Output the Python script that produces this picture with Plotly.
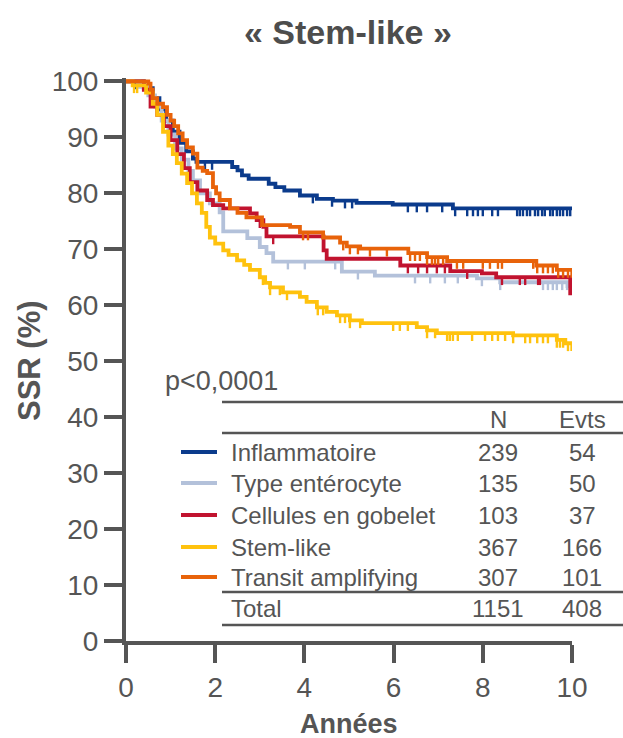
import plotly.graph_objects as go

# ---------------- data ----------------
groups = ["Inflammatoire", "Type entérocyte", "Cellules en gobelet", "Stem-like", "Transit amplifying"]
n_patients = [239, 135, 103, 367, 307]
n_events = [54, 50, 37, 166, 101]
total_n = 1151
total_events = 408
p_value_text = "p<0,0001"

infl_t = [0, 0.4, 0.6, 0.75, 0.9, 1.05, 1.2, 1.35, 1.5, 1.58, 2.38, 2.5, 2.6, 2.75, 3.2, 3.35, 3.55, 3.9, 4.28, 4.64, 5.17, 5.98, 7.33, 10.0]
infl_s = [100, 98.8, 97, 95, 93, 91, 89, 87.5, 86.2, 85.6, 84.7, 84.1, 83.2, 82.6, 81.7, 81.1, 80.5, 79.6, 79.0, 78.7, 78.3, 78.0, 77.3, 77.3]
infl_cens = [0.2, 1.77, 1.93, 4.19, 4.62, 4.91, 5.07, 6.32, 6.52, 6.75, 7.09, 7.38, 7.65, 7.78, 7.89, 8.0, 8.21,
             8.34, 8.77, 8.83, 8.9, 8.99, 9.06, 9.17, 9.24, 9.33, 9.39, 9.51, 9.57, 9.66, 9.73, 9.8, 9.89, 9.96]

ent_t = [0, 0.3, 0.5, 0.65, 0.8, 0.95, 1.1, 1.25, 1.4, 1.5, 1.66, 1.88, 2.1, 2.18, 2.72, 3.0, 3.15, 3.3, 4.84, 5.58, 7.87, 8.39, 9.9, 10.0]
ent_s = [100, 99, 97.5, 95.5, 93, 90.5, 88, 86, 84, 82.3, 80, 78.2, 76.6, 73.2, 72, 70.4, 69.3, 67.8, 66.0, 65.3, 64.8, 64.1, 63.4, 63.4]
ent_cens = [3.63, 4.01, 4.69, 5.2, 6.48, 6.82, 7.15, 7.44, 7.98, 8.39, 9.35, 9.46, 9.57, 9.66, 9.78, 9.89, 9.96]

gob_t = [0, 0.4, 0.55, 0.7, 0.85, 1.0, 1.15, 1.3, 1.43, 1.6, 1.82, 1.95, 2.18, 2.78, 2.93, 3.08, 3.15, 4.43, 4.5, 6.15, 7.27, 7.98, 8.3, 9.96, 10.0]
gob_s = [100, 98.5, 95.5, 94, 92, 89.5, 87, 84.5, 82, 80.5, 78.8, 77.9, 77.3, 76.4, 75.2, 74, 72.3, 69.8, 68.3, 67.1, 66.1, 65.7, 65.0, 62.1, 62.1]
gob_cens = [3.0, 3.3, 6.32, 6.55, 6.75, 6.97, 7.15, 7.65, 8.43, 8.83, 8.95, 9.24, 9.28]

stem_t = [0, 0.15, 0.45, 0.6, 0.7, 0.83, 0.95, 1.05, 1.14, 1.25, 1.37, 1.48, 1.59, 1.7, 1.8, 1.88, 2.0, 2.18, 2.3,
          2.49, 2.65, 2.78, 3.0, 3.12, 3.23, 3.52, 3.9, 4.05, 4.28, 4.5, 4.73, 5.02, 5.29, 6.52, 6.75, 6.97, 8.68, 9.66, 9.85, 10.0]
stem_s = [100, 99.3, 98, 96, 94, 91, 88.5, 87, 85.4, 83.5, 81.8, 80, 78.2, 76.5, 74, 72.1, 71, 69.8, 69,
          68, 67.2, 66.3, 65, 64, 63.2, 62.3, 61.5, 60.6, 59.6, 58.8, 58.2, 57.3, 56.8, 56.1, 55.5, 55.0, 54.6, 53.8, 53.2, 53.2]
stem_cens = [0.18, 0.25, 3.07, 3.23, 3.45, 3.61, 4.3, 4.42, 4.8, 4.91, 5.02, 5.25, 5.99, 6.14, 6.32, 6.75, 6.93,
             7.2, 7.26, 7.33, 7.44, 7.76, 8.05, 8.21, 8.34, 8.5, 8.68, 8.95, 9.06, 9.22, 9.35, 9.46, 9.66, 9.73, 9.8, 9.91, 9.99]

ta_t = [0, 0.5, 0.55, 0.6, 0.7, 0.83, 0.92, 1.0, 1.08, 1.17, 1.27, 1.37, 1.5, 1.6, 1.72, 1.82, 1.95, 2.02, 2.1, 2.33,
        2.5, 2.7, 3.05, 3.68, 3.9, 4.42, 4.8, 4.95, 5.25, 6.33, 6.75, 7.2, 9.2, 9.66, 10.0]
ta_s = [100, 99.6, 98.5, 97, 96, 95.4, 94, 93, 92, 90.7, 89.5, 88.2, 87.1, 84.6, 84, 83.6, 81.1, 80, 78.8, 77.3,
        76.5, 75.7, 74.3, 74.0, 73.0, 72.1, 71.2, 70.5, 70.1, 69.3, 68.6, 67.9, 67.1, 66.3, 66.3]
ta_cens = [3.97, 4.08, 4.87, 5.02, 5.2, 5.47, 5.85, 6.37, 6.48, 6.59, 6.75, 6.86, 6.93, 7.0, 7.11, 7.42, 7.56,
           8.0, 8.16, 8.34, 8.43, 9.13, 9.22, 9.35, 9.46, 9.57, 9.69, 9.8, 9.91, 9.99]

x_ticks = [0, 2, 4, 6, 8, 10]
y_ticks = [0, 10, 20, 30, 40, 50, 60, 70, 80, 90, 100]

# ---------------- styling ----------------
colors = ["#0b3b8c", "#b3c1da", "#c1132f", "#ffc20e", "#e8630a"]
TXT = "#555555"
FONT = "Liberation Sans, Arial, sans-serif"
series = [(infl_t, infl_s, infl_cens), (ent_t, ent_s, ent_cens), (gob_t, gob_s, gob_cens),
          (stem_t, stem_s, stem_cens), (ta_t, ta_s, ta_cens)]

W, H = 623, 738
ML, MR, MT, MB = 126, 51, 78, 97
PW = W - ML - MR
PH = H - MT - MB
Y_TOP = 100.6


def px(xp):
    return (xp - ML) / PW


def py(yp):
    return (H - MB - yp) / PH


def step_value(ts, ss, t):
    v = ss[0]
    for ti, si in zip(ts, ss):
        if ti <= t:
            v = si
    return v


fig = go.Figure()
for (ts, ss, cs), col, name in zip(series, colors, groups):
    fig.add_trace(go.Scatter(x=ts, y=ss, mode="lines", line=dict(color=col, width=3.8, shape="hv"),
                             name=name, showlegend=False, hoverinfo="skip"))
    cx, cy = [], []
    for c in cs:
        v = step_value(ts, ss, c)
        cx += [c, c, None]
        cy += [v, v - 1.4, None]
    fig.add_trace(go.Scatter(x=cx, y=cy, mode="lines", line=dict(color=col, width=2.4),
                             showlegend=False, hoverinfo="skip"))

shapes = []
annotations = []

# table lines
for yl in [402, 433, 592, 625]:
    shapes.append(dict(type="line", xref="paper", yref="paper", x0=px(222), x1=px(623), y0=py(yl), y1=py(yl),
                       line=dict(color=TXT, width=2.5)))

row_y = [452, 483, 515, 547, 577]
tf = dict(family=FONT, size=24, color=TXT)


def txt(s, xp, yp, anchor="center", font=tf, **kw):
    annotations.append(dict(text=s, x=px(xp), y=py(yp), xref="paper", yref="paper", showarrow=False,
                            xanchor=anchor, yanchor="middle", font=font, **kw))


txt("N", 498, 419)
txt("Evts", 582, 419)
for g, n, e, col, yr in zip(groups, n_patients, n_events, colors, row_y):
    shapes.append(dict(type="line", xref="paper", yref="paper", x0=px(181), x1=px(217), y0=py(yr), y1=py(yr),
                       line=dict(color=col, width=4)))
    txt(g, 229, yr, anchor="left")
    txt(str(n), 498, yr)
    txt(str(e), 582, yr)
txt("Total", 229, 608, anchor="left")
txt(str(total_n), 498, 608)
txt(str(total_events), 582, 608)
txt(p_value_text, 163, 381, anchor="left", font=dict(family=FONT, size=27, color=TXT))

# titles
txt("<b>« Stem-like »</b>", 348, 32, font=dict(family=FONT, size=34, color="#4d4d4d"))
txt("<b>Années</b>", 349, 724, font=dict(family=FONT, size=27, color=TXT))
txt("<b>SSR (%)</b>", 30, 361, font=dict(family=FONT, size=31, color=TXT), textangle=-90)

axis_common = dict(showgrid=False, zeroline=False, showline=True, linecolor=TXT, linewidth=4,
                   ticks="outside", ticklen=18, tickwidth=4, tickcolor=TXT, automargin=False,
                   tickfont=dict(family=FONT, size=28, color=TXT), fixedrange=True)

fig.update_layout(
    width=W, height=H,
    margin=dict(l=ML, r=MR, t=MT, b=MB, pad=0),
    paper_bgcolor="white", plot_bgcolor="white",
    template="none",
    showlegend=False,
    xaxis=dict(range=[0, 10], tickvals=x_ticks, ticktext=[str(v) for v in x_ticks], **axis_common),
    yaxis=dict(range=[0, Y_TOP], tickvals=y_ticks, ticktext=[str(v) for v in y_ticks], **axis_common),
    shapes=shapes,
    annotations=annotations,
)

fig.write_html("out.html")
